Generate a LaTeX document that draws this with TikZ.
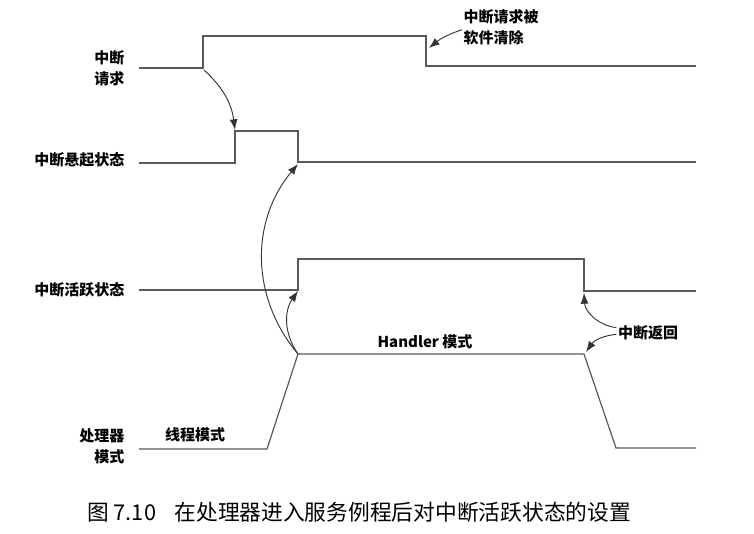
\documentclass[tikz,border=0pt]{standalone}
\usepackage{fontspec}
\setmainfont{Noto Sans CJK SC}
\usetikzlibrary{arrows.meta}
\tikzset{
    wave/.style={draw=black!65, line width=0.9pt},
    lbl/.style={font=\fontsize{11.25}{16}\selectfont\bfseries, inner sep=1pt},
    cue/.style={-{Latex[length=8pt,width=6pt]}, black!80, line width=0.7pt},
}
\begin{document}
\begin{tikzpicture}[x=0.75pt,y=-0.75pt]
    \useasboundingbox (0,0) rectangle (754,534);
    % waveforms
    \draw[wave] (139,68) -- (203,68) -- (203,36) -- (426,36) -- (426,66) -- (696,66);
    \draw[wave] (139,163) -- (235,163) -- (235,131) -- (298,131) -- (298,162) -- (696,162);
    \draw[wave] (139,290) -- (298,290) -- (298,259) -- (584,259) -- (584,291) -- (696,291);
    \draw[wave] (139,449) -- (267,449) -- (298,354) -- (584,354) -- (616,448) -- (696,448);
    % edge points
    \coordinate (reqRise) at (204,70);
    \coordinate (reqFall) at (429,48);
    \coordinate (pendRise) at (235,130);
    \coordinate (pendFall) at (298,164);
    \coordinate (actRise) at (298,291);
    \coordinate (actFall) at (584,293);
    \coordinate (hdlStart) at (298,354);
    \coordinate (hdlEnd) at (586,352);
    % labels
    \node[lbl, anchor=east, align=right] (req) at (126,68) {中断\\请求};
    \node[lbl, anchor=east] (pend) at (126,160) {中断悬起状态};
    \node[lbl, anchor=east] (act) at (126,290) {中断活跃状态};
    \node[lbl, anchor=east, align=right] (cpu) at (126,446) {处理器\\模式};
    \node[lbl] (thr) at (195,435) {线程模式};
    \node[lbl] (hdl) at (425,342) {Handler 模式};
    \node[lbl, anchor=west, align=left] (clr) at (462,27) {中断请求被\\软件清除};
    \node[lbl] (ret) at (648,333) {中断返回};
    % arrows
    \draw[cue] (reqRise) to[bend left=20] (pendRise);
    \draw[cue] ([yshift=-2pt]clr.west) to[bend right=10] (reqFall);
    \draw[cue] (hdlStart) to[bend left=40] (pendFall);
    \draw[cue] (hdlStart) to[bend left=35] (actRise);
    \draw[cue] ([yshift=4pt]ret.west) to[bend left=40] (actFall);
    \draw[cue] ([yshift=-1pt]ret.west) to[bend right=25] (hdlEnd);
    % caption
    \node[anchor=west, font=\fontsize{16.3}{18}\selectfont, inner sep=0pt] (cap) at (87,512)
        {图 7.10\hspace{0.85em}在处理器进入服务例程后对中断活跃状态的设置};
\end{tikzpicture}
\end{document}
